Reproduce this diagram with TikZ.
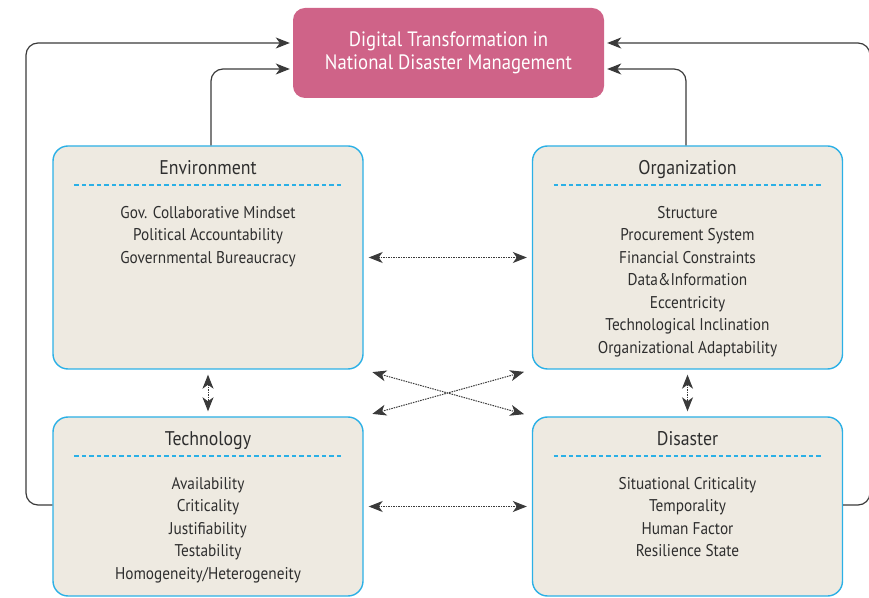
\documentclass[tikz,border=0pt]{standalone}
\usepackage{fontspec}
\setmainfont[FakeStretch=0.9]{PT Sans}
\usetikzlibrary{arrows.meta,positioning}

\definecolor{goalpink}{HTML}{CF6388}
\definecolor{boxfill}{HTML}{EEEAE1}
\definecolor{boxline}{HTML}{2BB0E6}
\definecolor{linegray}{HTML}{3A3A3A}
\definecolor{textgray}{HTML}{2E2E2E}

\tikzset{
	goalbox/.style={fill=goalpink, rounded corners=12pt, minimum width=311pt, minimum height=90pt,
		text=white, align=center, font=\fontsize{20.8}{23.5}\selectfont},
	factor/.style={draw=boxline, line width=1.4pt, fill=boxfill, rounded corners=15pt, minimum width=310pt},
	factortitle/.style={text=textgray, anchor=base, font=\fontsize{19.8}{23}\selectfont},
	factoritem/.style={text=textgray, anchor=base, font=\fontsize{17}{22}\selectfont},
	sep/.style={draw=boxline, line width=1.5pt, dash pattern=on 4.5pt off 3pt},
	feed/.style={linegray, line width=1.2pt, rounded corners=12pt, -{Stealth[length=14pt,width=11pt,inset=4pt]}, shorten >=3pt},
	link/.style={linegray, line width=1pt, dash pattern=on 1.5pt off 1pt,
		{Stealth[length=14pt,width=11pt,inset=4pt]}-{Stealth[length=14pt,width=11pt,inset=4pt]},
		shorten <=5pt, shorten >=5pt}
}

\begin{document}
\begin{tikzpicture}[x=1pt,y=1pt]
	\useasboundingbox (0,0) rectangle (869,597);

	\node[goalbox] (goal) at (448.5,544) {Digital Transformation in\\National Disaster Management};

	% the four factor boxes
	\node[factor, minimum height=223pt] (env) at (208,339.5) {};
	\node[factor, minimum height=223pt] (org) at (687.5,339.5) {};
	\node[factor, minimum height=179pt] (tech) at (208,90.5) {};
	\node[factor, minimum height=179pt] (dis) at (687.5,90.5) {};

	\foreach \f/\title/\entries in {
		env/Environment/{Gov. Collaborative Mindset, Political Accountability, Governmental Bureaucracy},
		org/Organization/{Structure, Procurement System, Financial Constraints, Data\&Information, Eccentricity, Technological Inclination, Organizational Adaptability},
		tech/Technology/{Availability, Criticality, Justifiability, Testability, Homogeneity/Heterogeneity},
		dis/Disaster/{Situational Criticality, Temporality, Human Factor, Resilience State}} {
		\node[factortitle] (\f-title) at ([yshift=-29pt]\f.north) {\title};
		\draw[sep] ([xshift=22pt,yshift=-39.5pt]\f.north west) -- ([xshift=-22pt,yshift=-39.5pt]\f.north east);
		\foreach \entry [count=\i] in \entries
			\node[factoritem] (\f-item-\i) at ([yshift=-50.5pt-22.5pt*\i]\f.north) {\entry};
	}

	% feedback into the goal
	\coordinate (rail-l) at (26,554);
	\coordinate (rail-r) at (870,554);
	\draw[feed] ([xshift=3pt]env.north) |- ([yshift=-16pt]goal.west);
	\draw[feed] ([xshift=-1.5pt]org.north) |- ([yshift=-16pt]goal.east);
	\draw[feed] ([yshift=1.5pt]tech.west) -| (rail-l) -- ([yshift=10pt]goal.west);
	\draw[feed] ([yshift=1.5pt]dis.east) -| (rail-r) -- ([yshift=10pt]goal.east);

	% links between the factors
	\draw[link] (env) -- (org);
	\draw[link] (tech) -- (dis);
	\draw[link] (env) -- (tech);
	\draw[link] (org) -- (dis);
	\draw[link, shorten <=9pt, shorten >=8pt] (env.south east) -- (dis.north west);
	\draw[link, shorten <=9pt, shorten >=8pt] (tech.north east) -- (org.south west);
\end{tikzpicture}
\end{document}
